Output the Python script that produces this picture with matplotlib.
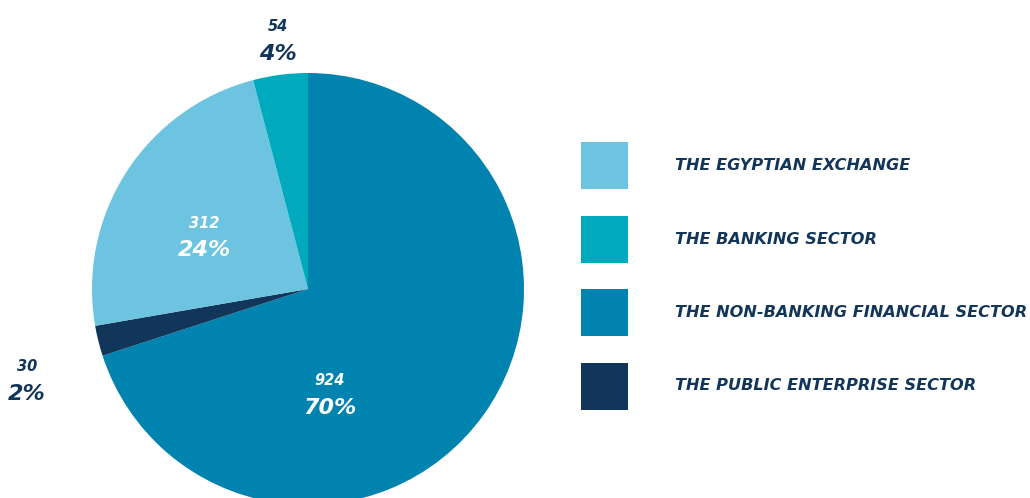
import numpy as np
import matplotlib
matplotlib.use("Agg")
import matplotlib.pyplot as plt
from matplotlib.patches import Rectangle

# data, clockwise from 12 o'clock
sectors = ["THE NON-BANKING FINANCIAL SECTOR", "THE PUBLIC ENTERPRISE SECTOR",
           "THE EGYPTIAN EXCHANGE", "THE BANKING SECTOR"]
values = [924, 30, 312, 54]
pct_labels = ["70%", "2%", "24%", "4%"]
colors = ["#0083AE", "#12355A", "#6CC4E0", "#00A9BC"]

# legend order
legend_order = ["THE EGYPTIAN EXCHANGE", "THE BANKING SECTOR",
                "THE NON-BANKING FINANCIAL SECTOR", "THE PUBLIC ENTERPRISE SECTOR"]

navy = "#12355A"
font = dict(family="DejaVu Sans", weight="bold", style="oblique")

W, H = 1030, 498
fig = plt.figure(figsize=(W / 100, H / 100), dpi=100)
ax = fig.add_axes([0, 0, 1, 1])

cx, cy, R = 308, H - 289, 216
wedges, _ = ax.pie(values, colors=colors, startangle=90, counterclock=False,
                   center=(cx, cy), radius=R, frame=True,
                   wedgeprops=dict(linewidth=0))

# label offsets from pie centre, in radius units
label_pos = [(0.10, -0.485), (-1.30, -0.42), (-0.48, 0.245), (-0.14, 1.155)]
label_col = ["white", navy, "white", navy]
for v, p, (dx, dy), c in zip(values, pct_labels, label_pos, label_col):
    x, y = cx + dx * R, cy + dy * R
    ax.text(x, y + 13, str(v), ha="center", va="center", fontsize=10.5, color=c, **font)
    ax.text(x, y - 14, p, ha="center", va="center", fontsize=16, color=c, **font)

# legend
col_of = dict(zip(sectors, colors))
for i, name in enumerate(legend_order):
    top = 142 + i * 73.5
    ax.add_patch(Rectangle((581, H - top - 47), 47, 47, color=col_of[name], lw=0))
    ax.text(675, H - top - 23.5, name, ha="left", va="center", fontsize=11.6,
            color=navy, **font)

ax.set_xlim(0, W)
ax.set_ylim(0, H)
ax.set_aspect("equal")
ax.axis("off")

fig.savefig("out.png", dpi=100, facecolor="white")
